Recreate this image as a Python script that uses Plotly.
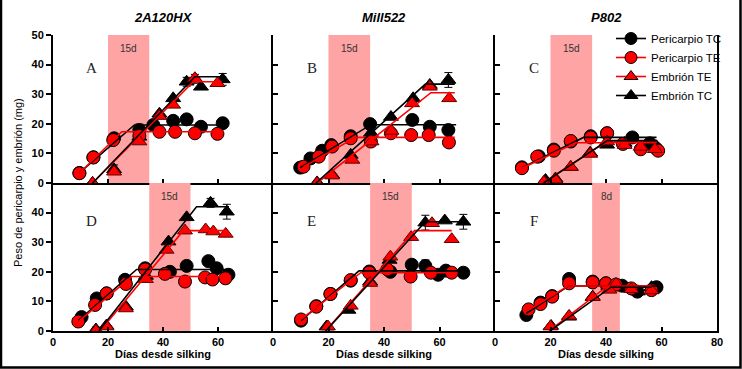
import plotly.graph_objects as go
from plotly.subplots import make_subplots

# ---------------- data ----------------
hybrids = ["2A120HX", "Mill522", "P802"]
panel_letters = ["A", "B", "C", "D", "E", "F"]
shade_x0 = [20, 20, 20, 35, 35, 35]
shade_x1 = [35, 35, 35, 50, 50, 45]
shade_labels = ["15d", "15d", "15d", "15d", "15d", "8d"]
series_names = ["Pericarpio TC", "Pericarpio TE", "Embrión TE", "Embrión TC"]

# Panel A
A_PTC_x = [9.6, 14.7, 22.2, 31.4, 36.5, 43.7, 48.6, 53.8, 61.7]
A_PTC_y = [3.4, 8.7, 15.1, 17.9, 19.6, 21.0, 21.5, 19.0, 20.2]
A_PTC_e = [0, 0, 0, 2.0, 0, 0, 0, 0, 0]
A_PTE_x = [9.6, 14.7, 21.9, 31.4, 38.7, 44.4, 51.6, 59.8]
A_PTE_y = [3.3, 8.6, 14.5, 15.9, 17.3, 17.3, 16.8, 16.6]
A_ETE_x = [14.4, 22.2, 31.4, 38.7, 43.7, 51.6, 59.8]
A_ETE_y = [0.0, 3.8, 14.0, 22.6, 26.4, 35.4, 33.7]
A_ETC_x = [14.4, 22.2, 31.4, 38.7, 43.7, 48.6, 51.6, 53.8, 61.7]
A_ETC_y = [0.0, 4.6, 15.6, 23.4, 28.6, 34.2, 35.2, 32.5, 35.0]
A_ETC_e = [0, 1.5, 2.0, 0, 0, 1.5, 1.5, 0, 2.0]
A_fit_PTC = ([9.6, 29.6, 63.0], [3.4, 19.6, 19.6])
A_fit_PTE = ([9.6, 25.0, 62.0], [3.3, 17.3, 17.3])
A_fit_ETE = ([14.4, 51.0, 61.3], [0.0, 34.2, 34.2])
A_fit_ETC = ([14.4, 51.6, 63.0], [0.0, 35.9, 35.9])

# Panel B
B_PTC_x = [9.8, 13.5, 17.7, 21.0, 28.0, 35.0, 50.2, 56.5, 63.2]
B_PTC_y = [5.2, 8.3, 10.9, 12.8, 15.8, 19.9, 21.3, 19.0, 17.9]
B_PTC_e = [0, 0, 0, 0, 0, 0, 1.5, 1.5, 0]
B_PTE_x = [11.0, 16.5, 21.3, 28.0, 35.3, 42.5, 49.8, 56.1, 63.4]
B_PTE_y = [5.5, 8.9, 12.3, 15.1, 14.0, 16.8, 16.2, 16.2, 13.7]
B_ETE_x = [15.9, 21.3, 28.6, 35.5, 42.7, 50.1, 56.5, 63.5]
B_ETE_y = [0.0, 2.5, 7.8, 14.0, 17.6, 26.9, 32.5, 28.6]
B_ETC_x = [15.9, 21.3, 28.0, 35.3, 42.5, 50.5, 56.5, 63.2]
B_ETC_y = [0.2, 2.8, 9.5, 16.9, 22.3, 28.6, 33.1, 34.8]
B_ETC_e = [0, 0, 0, 0, 0, 0, 0, 2.5]
B_fit_PTC = ([9.8, 35.3, 66.0], [5.2, 19.7, 19.7])
B_fit_PTE = ([11.0, 29.8, 65.5], [5.5, 15.4, 15.4])
B_fit_ETE = ([15.9, 56.9, 65.5], [0.0, 30.5, 30.5])
B_fit_ETC = ([15.5, 54.9, 65.5], [0.0, 33.4, 33.4])

# Panel C
C_PTC_x = [9.7, 15.8, 21.2, 27.3, 34.5, 40.4, 49.5, 55.8, 58.0]
C_PTC_y = [5.3, 9.0, 11.3, 14.0, 15.8, 16.8, 15.4, 13.4, 11.7]
C_PTE_x = [9.7, 15.2, 21.2, 27.3, 34.5, 40.4, 46.1, 52.5, 58.8]
C_PTE_y = [5.0, 8.9, 10.9, 14.2, 15.4, 16.8, 13.2, 11.4, 10.9]
C_ETE_x = [17.6, 21.8, 27.3, 34.3, 40.4, 46.7, 52.5, 57.6]
C_ETE_y = [0.4, 1.1, 5.4, 9.8, 14.0, 12.8, 12.2, 11.4]
C_ETC_x = [18.2, 21.8, 27.3, 34.3, 40.4, 46.7, 55.2, 58.2]
C_ETC_y = [1.0, 1.5, 5.4, 10.2, 12.9, 13.5, 13.3, 12.4]
C_fit_PTC = ([9.7, 31.9, 58.2], [5.2, 15.4, 15.4])
C_fit_PTE = ([9.7, 29.1, 58.2], [5.0, 13.6, 13.6])
C_fit_ETE = ([17.2, 40.0, 58.2], [0.0, 13.8, 13.8])
C_fit_ETC = ([17.5, 40.5, 58.2], [0.0, 14.3, 14.3])

# Panel D
D_PTC_x = [10.4, 15.9, 19.5, 26.2, 33.5, 42.5, 48.6, 56.5, 59.5, 63.8]
D_PTC_y = [4.7, 11.0, 12.7, 17.3, 21.2, 20.0, 22.0, 23.6, 21.2, 19.0]
D_PTE_x = [9.2, 15.3, 19.5, 26.5, 33.5, 40.7, 48.0, 55.3, 58.0, 62.7]
D_PTE_y = [3.2, 8.8, 12.7, 15.9, 20.8, 19.3, 16.7, 18.1, 17.4, 17.8]
D_ETE_x = [15.6, 19.5, 26.5, 33.8, 41.3, 48.0, 55.5, 58.3, 62.8]
D_ETE_y = [0.1, 1.5, 7.6, 17.5, 27.4, 33.9, 34.3, 33.6, 32.8]
D_ETC_x = [15.6, 19.4, 26.5, 33.8, 42.0, 48.6, 57.3, 63.2]
D_ETC_y = [0.5, 1.8, 8.2, 18.6, 30.2, 38.4, 43.3, 40.3]
D_ETC_e = [0.8, 0, 0, 0, 0, 0, 1.5, 2.5]
D_fit_PTC = ([9.2, 30.4, 63.2], [3.5, 20.8, 20.8])
D_fit_PTE = ([9.2, 28.6, 63.8], [3.2, 18.4, 18.4])
D_fit_ETE = ([17.1, 47.4, 63.2], [0.0, 33.9, 33.9])
D_fit_ETC = ([16.7, 52.2, 64.0], [0.0, 42.0, 42.0])

# Panel E
E_PTC_x = [10.1, 15.6, 20.7, 28.0, 34.7, 42.3, 50.0, 54.9, 59.5, 62.3, 68.6]
E_PTC_y = [3.5, 8.4, 12.5, 17.0, 20.1, 20.0, 22.4, 22.0, 19.0, 20.4, 19.7]
E_PTC_e = [0, 1.5, 0, 0, 0, 0, 1.5, 2.0, 0, 0, 0]
E_PTE_x = [10.1, 15.6, 20.7, 28.0, 34.7, 41.2, 49.6, 56.9, 64.4]
E_PTE_y = [3.9, 8.2, 12.5, 17.2, 19.7, 20.8, 18.4, 19.7, 19.7]
E_ETE_x = [19.8, 28.0, 35.0, 42.3, 49.8, 57.3, 64.4]
E_ETE_y = [1.5, 8.5, 16.2, 25.1, 31.7, 36.4, 31.0]
E_ETC_x = [19.3, 27.2, 35.0, 42.0, 54.9, 61.9, 68.6]
E_ETC_y = [1.5, 7.1, 16.7, 24.0, 36.6, 37.3, 36.9]
E_ETC_e = [0, 0, 0, 0, 2.5, 0, 2.5]
E_fit_PTC = ([10.1, 31.0, 69.0], [3.5, 20.3, 20.3])
E_fit_PTE = ([10.1, 31.6, 66.0], [3.9, 19.7, 19.7])
E_fit_ETE = ([18.9, 51.0, 64.4], [0.0, 33.9, 33.9])
E_fit_ETC = ([19.0, 54.9, 69.0], [0.0, 36.9, 36.9])

# Panel F
F_PTC_x = [11.3, 16.4, 20.6, 26.7, 35.2, 40.0, 45.8, 51.3, 58.2]
F_PTC_y = [5.4, 9.6, 11.8, 17.6, 16.7, 16.1, 15.3, 13.3, 14.8]
F_PTE_x = [12.1, 16.4, 20.6, 26.7, 35.2, 40.0, 43.6, 49.1, 56.4]
F_PTE_y = [7.3, 9.1, 11.6, 16.1, 16.4, 16.1, 15.7, 14.4, 13.8]
F_ETE_x = [20.0, 26.7, 35.2, 41.2, 43.6, 49.1, 56.4]
F_ETE_y = [1.5, 5.1, 11.4, 13.9, 15.9, 14.1, 13.7]
F_ETC_x = [20.2, 26.7, 35.2, 40.8, 45.1, 51.5, 56.4]
F_ETC_y = [1.7, 4.8, 11.6, 15.2, 14.7, 13.3, 14.8]
F_fit_PTC = ([11.3, 26.5, 58.2], [6.0, 15.2, 15.2])
F_fit_PTE = ([12.1, 26.3, 56.4], [7.1, 15.2, 15.2])
F_fit_ETE = ([19.5, 40.0, 56.4], [0.0, 14.8, 14.8])
F_fit_ETC = ([19.8, 41.8, 56.4], [0.0, 14.8, 14.8])

panels = [
    dict(PTC=(A_PTC_x, A_PTC_y, A_PTC_e), PTE=(A_PTE_x, A_PTE_y, None),
         ETE=(A_ETE_x, A_ETE_y, None), ETC=(A_ETC_x, A_ETC_y, A_ETC_e),
         fits=[A_fit_PTC, A_fit_PTE, A_fit_ETE, A_fit_ETC]),
    dict(PTC=(B_PTC_x, B_PTC_y, B_PTC_e), PTE=(B_PTE_x, B_PTE_y, None),
         ETE=(B_ETE_x, B_ETE_y, None), ETC=(B_ETC_x, B_ETC_y, B_ETC_e),
         fits=[B_fit_PTC, B_fit_PTE, B_fit_ETE, B_fit_ETC]),
    dict(PTC=(C_PTC_x, C_PTC_y, None), PTE=(C_PTE_x, C_PTE_y, None),
         ETE=(C_ETE_x, C_ETE_y, None), ETC=(C_ETC_x, C_ETC_y, None),
         fits=[C_fit_PTC, C_fit_PTE, C_fit_ETE, C_fit_ETC]),
    dict(PTC=(D_PTC_x, D_PTC_y, None), PTE=(D_PTE_x, D_PTE_y, None),
         ETE=(D_ETE_x, D_ETE_y, None), ETC=(D_ETC_x, D_ETC_y, D_ETC_e),
         fits=[D_fit_PTC, D_fit_PTE, D_fit_ETE, D_fit_ETC]),
    dict(PTC=(E_PTC_x, E_PTC_y, E_PTC_e), PTE=(E_PTE_x, E_PTE_y, None),
         ETE=(E_ETE_x, E_ETE_y, None), ETC=(E_ETC_x, E_ETC_y, E_ETC_e),
         fits=[E_fit_PTC, E_fit_PTE, E_fit_ETE, E_fit_ETC]),
    dict(PTC=(F_PTC_x, F_PTC_y, None), PTE=(F_PTE_x, F_PTE_y, None),
         ETE=(F_ETE_x, F_ETE_y, None), ETC=(F_ETC_x, F_ETC_y, None),
         fits=[F_fit_PTC, F_fit_PTE, F_fit_ETE, F_fit_ETC]),
]

# ---------------- styling ----------------
W, H = 742, 369
L, R, T, B = 53, 25, 35, 38
PW, PH = W - L - R, H - T - B
RED = "#ff0000"
SHADE = "#ffa4a4"
col_px = [(53, 273), (273, 495), (495, 717)]
col_dom = [((a - L) / PW, (b - L) / PW) for a, b in col_px]

def px2paper_x(p):
    return (p - L) / PW

def px2paper_y(p):
    return (H - B - p) / PH

fig = make_subplots(rows=2, cols=3, horizontal_spacing=0, vertical_spacing=0)

style = {
    "PTC": dict(symbol="circle", color="black", lc="black"),
    "PTE": dict(symbol="circle", color=RED, lc="black"),
    "ETE": dict(symbol="triangle-up", color=RED, lc="#600000"),
    "ETC": dict(symbol="triangle-up", color="black", lc="black"),
}
fit_colors = ["black", RED, RED, "black"]

for i, p in enumerate(panels):
    r, c = i // 3 + 1, i % 3 + 1
    for key in ["PTC", "ETC", "PTE", "ETE"]:
        xs, ys, es = p[key]
        st = style[key]
        tr = go.Scatter(
            x=xs, y=ys, mode="markers", showlegend=False,
            marker=dict(symbol=st["symbol"], size=13, color=st["color"],
                        line=dict(color=st["lc"], width=1)),
        )
        if es is not None:
            tr.error_y = dict(type="data", array=es, color="black",
                              thickness=1, width=4, visible=True)
        fig.add_trace(tr, row=r, col=c)
    for (fx, fy), fc in zip(p["fits"], fit_colors):
        fig.add_trace(go.Scatter(x=fx, y=fy, mode="lines", showlegend=False,
                                 line=dict(color=fc, width=1.6)), row=r, col=c)

# legend entries
leg_specs = [("Pericarpio TC", "circle", "black", "black"),
             ("Pericarpio TE", "circle", RED, RED),
             ("Embrión TE", "triangle-up", RED, RED),
             ("Embrión TC", "triangle-up", "black", "black")]
for name, sym, mc, lc in leg_specs:
    fig.add_trace(go.Scatter(x=[None], y=[None], mode="lines+markers", name=name,
                             marker=dict(symbol=sym, size=12, color=mc,
                                         line=dict(color="black", width=1)),
                             line=dict(color=lc, width=1.6)), row=1, col=3)

tickfont = dict(family="Arial", size=11, color="black", weight="bold")
for i in range(6):
    r, c = i // 3 + 1, i % 3 + 1
    xa = "xaxis" if i == 0 else f"xaxis{i+1}"
    ya = "yaxis" if i == 0 else f"yaxis{i+1}"
    bottom = (r == 2)
    if c == 3:
        xt_text = ["0", "20", "40", "60", "80"]
    else:
        xt_text = ["0", "20", "40", "60", ""]
    fig.layout[xa].update(
        domain=list(col_dom[c - 1]), range=[0, 80], showgrid=False, zeroline=False,
        showline=True, linecolor="black", linewidth=2,
        ticks="inside", ticklen=4, tickwidth=1.5, tickcolor="black",
        tickvals=[0, 20, 40, 60, 80], ticktext=xt_text,
        showticklabels=bottom, tickfont=tickfont,
        fixedrange=True,
    )
    if r == 1:
        yt_vals = [0, 10, 20, 30, 40, 50]
    else:
        yt_vals = [0, 10, 20, 30, 40]
    fig.layout[ya].update(
        domain=[0.5, 1.0] if r == 1 else [0.0, 0.5], range=[0, 50],
        showgrid=False, zeroline=False,
        showline=True, linecolor="black", linewidth=2,
        ticks="outside" if c == 1 else "inside", ticklen=5, tickwidth=1.5,
        tickcolor="black", tickvals=yt_vals,
        showticklabels=(c == 1), tickfont=tickfont,
        mirror=True if c == 3 else False,
        fixedrange=True,
    )
    xref = "x" if i == 0 else f"x{i+1}"
    yref = "y" if i == 0 else f"y{i+1}"
    fig.add_shape(type="rect", xref=xref, yref=yref, x0=shade_x0[i], x1=shade_x1[i],
                  y0=0, y1=50, fillcolor=SHADE, line=dict(width=0), layer="below")
    fig.add_annotation(xref=xref, yref=yref, x=(shade_x0[i] + shade_x1[i]) / 2, y=45.5,
                       text=shade_labels[i], showarrow=False,
                       xanchor="center", yanchor="middle",
                       font=dict(family="Arial", size=10, color="#333333"))
    fig.add_annotation(xref=xref, yref=yref, x=14, y=38.8 if r == 1 else 37,
                       text=panel_letters[i], showarrow=False,
                       xanchor="center", yanchor="middle",
                       font=dict(family="Liberation Serif", size=15, color="#222222"))

for c in range(3):
    cx = (col_dom[c][0] + col_dom[c][1]) / 2
    fig.add_annotation(xref="paper", yref="paper", x=cx, y=px2paper_y(17),
                       text=f"<b><i>{hybrids[c]}</i></b>", showarrow=False,
                       xanchor="center", yanchor="middle",
                       font=dict(family="Arial", size=13, color="black"))
    fig.add_annotation(xref="paper", yref="paper", x=cx, y=px2paper_y(354),
                       text="<b>Días desde silking</b>", showarrow=False,
                       xanchor="center", yanchor="middle",
                       font=dict(family="Arial", size=11, color="black"))

fig.add_annotation(xref="paper", yref="paper", x=px2paper_x(18), y=0.5,
                   text="Peso de pericarpio y embrión (mg)", textangle=-90,
                   xanchor="center", yanchor="middle",
                   showarrow=False, font=dict(family="Arial", size=11, color="black"))

# outer frame (left, bottom, right)
fig.add_shape(type="path", xref="paper", yref="paper",
              path=(f"M {px2paper_x(1)},{px2paper_y(0)} L {px2paper_x(1)},{px2paper_y(367.5)} "
                    f"L {px2paper_x(740.5)},{px2paper_y(367.5)} L {px2paper_x(740.5)},{px2paper_y(0)}"),
              line=dict(color="black", width=2.5))

fig.update_layout(
    width=W, height=H, margin=dict(l=L, r=R, t=T, b=B),
    paper_bgcolor="white", plot_bgcolor="rgba(0,0,0,0)",
    font=dict(family="Arial", color="black"),
    legend=dict(x=px2paper_x(611), y=px2paper_y(24), xanchor="left", yanchor="top",
                bgcolor="rgba(0,0,0,0)", font=dict(family="Arial", size=11.5, color="black"),
                tracegroupgap=0, itemwidth=30),
)

fig.write_html(
    "out.html",
    config={"displayModeBar": False},
    post_script="document.body.style.margin='0';document.body.style.overflow='hidden';",
)
